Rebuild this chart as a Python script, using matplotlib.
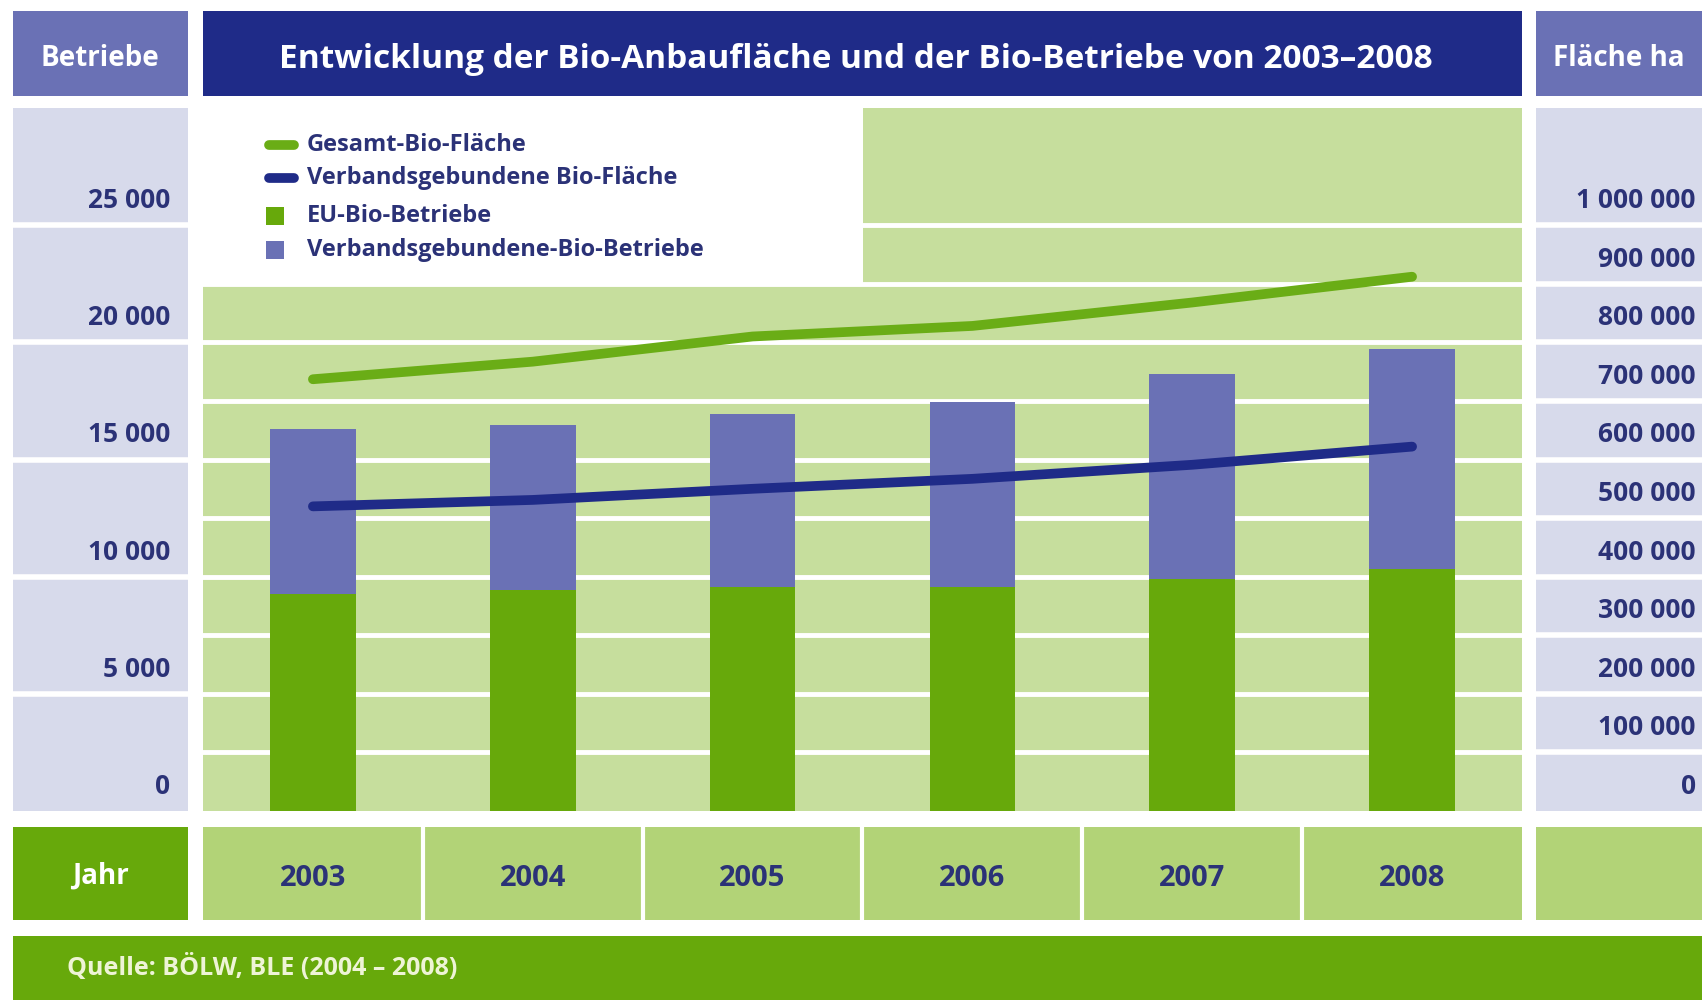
import matplotlib.pyplot as plt
from matplotlib.patches import Rectangle
from matplotlib.transforms import blended_transform_factory

plt.rcParams['font.family'] = ['Open Sans', 'DejaVu Sans']

# data
years = ['2003', '2004', '2005', '2006', '2007', '2008']
eu_betriebe = [9260, 9440, 9540, 9540, 9910, 10320]
verband_betriebe = [7040, 7040, 7400, 7910, 8750, 9400]
gesamt_flaeche = [737000, 767000, 810000, 828000, 868000, 912000]
verband_flaeche = [520000, 531000, 550000, 567000, 591000, 622000]

left_ticks = [0, 5000, 10000, 15000, 20000, 25000]
right_ticks = [0, 100000, 200000, 300000, 400000, 500000,
               600000, 700000, 800000, 900000, 1000000]

title = 'Entwicklung der Bio-Anbaufläche und der Bio-Betriebe von 2003–2008'
source = 'Quelle: BÖLW, BLE (2004 – 2008)'

GREEN = '#67a90b'
LINE_GREEN = '#6aad16'
GREEN_BG = '#c6de9d'
GREEN_ROW = '#b2d377'
NAVY = '#1f2b88'
LAV = '#6a71b5'
LAV_LIGHT = '#d7daeb'
TEXT = '#2b3277'

W, H = 1702, 1000
fig = plt.figure(figsize=(W / 100, H / 100), dpi=100)
fig.patch.set_facecolor('white')

# background frame in pixel coordinates
bg = fig.add_axes([0, 0, 1, 1])
bg.set_xlim(0, W)
bg.set_ylim(H, 0)
bg.axis('off')


def box(axis, x0, y0, x1, y1, color):
    axis.add_patch(Rectangle((x0, y0), x1 - x0, y1 - y0, color=color, lw=0))


box(bg, 13, 11, 188, 96, LAV)
box(bg, 203, 11, 1522, 96, NAVY)
box(bg, 1536, 11, W + 5, 96, LAV)
box(bg, 13, 108, 188, 811, LAV_LIGHT)
box(bg, 1536, 108, W + 5, 811, LAV_LIGHT)
box(bg, 13, 827, 188, 920, GREEN)
box(bg, 203, 827, 1522, 920, GREEN_ROW)
box(bg, 1536, 827, W + 5, 920, GREEN_ROW)
box(bg, 13, 936, W + 5, H + 5, GREEN)

bg.text(100, 59, 'Betriebe', color='white', fontsize=20, fontweight='bold',
        ha='center', va='center')
bg.text(856, 60, title, color='white', fontsize=24, fontweight='bold',
        ha='center', va='center')
bg.text(1553, 59, 'Fläche ha', color='white', fontsize=20, fontweight='bold',
        ha='left', va='center')
bg.text(100, 876, 'Jahr', color='white', fontsize=20, fontweight='bold',
        ha='center', va='center')
bg.text(67, 967, source, color='#eef4d6', fontsize=18, fontweight='bold',
        ha='left', va='center')

# main chart
ax = fig.add_axes([203 / W, 1 - 811 / H, (1522 - 203) / W, (811 - 108) / H])
ax.set_facecolor(GREEN_BG)
ax.set_xlim(-0.5, 5.5)
ax.set_ylim(0, 30000)
for s in ax.spines.values():
    s.set_visible(False)
ax.set_xticks([])
ax.set_yticks([])

for v in range(2500, 25001, 2500):
    ax.axhline(v, color='white', lw=3.5, zorder=1)
# white legend area in the upper left
ax.add_patch(Rectangle((-0.5, 22500), 3.0, 7500, color='white', lw=0, zorder=1))

x = list(range(len(years)))
ax.bar(x, eu_betriebe, width=0.39, color=GREEN, zorder=3)
ax.bar(x, verband_betriebe, width=0.39, bottom=eu_betriebe, color=LAV, zorder=3)

ax2 = ax.twinx()
ax2.set_ylim(0, 1200000)
ax2.set_yticks([])
for s in ax2.spines.values():
    s.set_visible(False)
ax2.plot(x, gesamt_flaeche, color=LINE_GREEN, lw=7, solid_capstyle='round')
ax2.plot(x, verband_flaeche, color=NAVY, lw=7, solid_capstyle='round')

# left value column
tl = blended_transform_factory(fig.transFigure, ax.transData)
for v in range(5000, 25001, 5000):
    ax.plot([13 / W, 188 / W], [v, v], transform=tl, color='white', lw=4,
            clip_on=False)
for v in left_ticks:
    ax.text(170 / W, v + 1050, f'{v:,}'.replace(',', ' '), transform=tl,
            ha='right', va='center', fontsize=19, fontweight='bold',
            color=TEXT, clip_on=False)

# right value column
tr = blended_transform_factory(fig.transFigure, ax2.transData)
for v in range(100000, 1000001, 100000):
    ax2.plot([1536 / W, 1.01], [v, v], transform=tr, color='white', lw=4,
             clip_on=False)
for v in right_ticks:
    ax2.text(1696 / W, v + 42000, f'{v:,}'.replace(',', ' '), transform=tr,
             ha='right', va='center', fontsize=19, fontweight='bold',
             color=TEXT, clip_on=False)

# year row
tx = blended_transform_factory(ax.transData, fig.transFigure)
for i, yr in enumerate(years):
    ax.text(i, 1 - 878 / H, yr, transform=tx, ha='center', va='center',
            fontsize=21, fontweight='bold', color=TEXT, clip_on=False)
    if i > 0:
        ax.plot([i - 0.5, i - 0.5], [1 - 827 / H, 1 - 920 / H], transform=tx,
                color='white', lw=3, clip_on=False)

# legend on an overlay so it sits above the chart area
top = fig.add_axes([0, 0, 1, 1])
top.set_xlim(0, W)
top.set_ylim(H, 0)
top.axis('off')
top.patch.set_alpha(0)

legend_rows = [
    ('line', LINE_GREEN, 'Gesamt-Bio-Fläche', 145),
    ('line', NAVY, 'Verbandsgebundene Bio-Fläche', 178),
    ('square', GREEN, 'EU-Bio-Betriebe', 216),
    ('square', LAV, 'Verbandsgebundene-Bio-Betriebe', 250),
]
for kind, col, label, yy in legend_rows:
    if kind == 'line':
        top.plot([269, 294], [yy, yy], color=col, lw=7, solid_capstyle='round')
    else:
        box(top, 266, yy - 9, 284, yy + 9, col)
    top.text(307, yy, label, color=TEXT, fontsize=17, fontweight='bold',
             ha='left', va='center')

fig.savefig('out.png', dpi=100)
